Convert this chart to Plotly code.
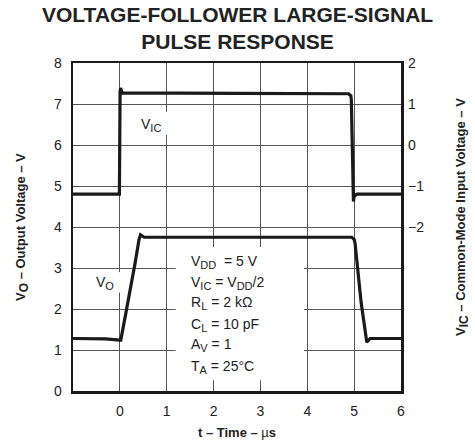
import plotly.graph_objects as go

# ---- data ----
t_vo = [-1, -0.3, 0.0, 0.02, 0.12, 0.23, 0.33, 0.41, 0.44, 0.52, 2.5, 4.95, 5.0, 5.02, 5.15, 5.27, 5.3, 5.34, 6]
vo = [1.28, 1.27, 1.24, 1.24, 1.85, 2.5, 3.15, 3.7, 3.81, 3.75, 3.75, 3.75, 3.7, 3.6, 2.15, 1.19, 1.23, 1.28, 1.28]

t_vic = [-1, -0.01, 0.005, 0.015, 0.05, 0.1, 2.5, 4.88, 4.93, 4.94, 4.985, 5.0, 5.06, 6]
vic = [-1.2, -1.2, 1.3, 1.39, 1.27, 1.27, 1.26, 1.25, 1.2, 1.1, -1.38, -1.25, -1.2, -1.2]

x_ticks = [0, 1, 2, 3, 4, 5, 6]
y_ticks = [0, 1, 2, 3, 4, 5, 6, 7, 8]
y2_ticks = [-2, -1, 0, 1, 2]
y2_labels = ["\u22122", "\u22121", "0", "1", "2"]


def sub(s, size=11):
    return "<sub><span style='font-size:%dpx'>%s</span></sub>" % (size, s)


params = [
    "V" + sub("DD") + "  = 5 V",
    "V" + sub("IC") + " = V" + sub("DD") + "/2",
    "R" + sub("L") + " = 2 k\u03a9",
    "C" + sub("L") + " = 10 pF",
    "A" + sub("V") + " = 1",
    "T" + sub("A") + " = 25\u00b0C",
]
param_y = [3.15, 2.64, 2.14, 1.62, 1.12, 0.59]

FONT = "Arial, Liberation Sans, sans-serif"
INK = "#1a1a1a"
GRID = "#555555"
TXT = "#222222"

fig = go.Figure()
fig.add_trace(go.Scatter(x=t_vo, y=vo, mode="lines", yaxis="y",
                         line=dict(color=INK, width=3.2), showlegend=False, hoverinfo="skip"))
fig.add_trace(go.Scatter(x=t_vic, y=vic, mode="lines", yaxis="y2",
                         line=dict(color=INK, width=3.2), showlegend=False, hoverinfo="skip"))

# white patches that interrupt the grid behind labels
for x0, x1, y0, y1 in [(1.19, 3.93, 0.26, 3.51), (0.29, 1.04, 6.25, 6.81), (-0.45, 0.03, 2.4, 2.9)]:
    fig.add_shape(type="rect", xref="x", yref="y", x0=x0, x1=x1, y0=y0, y1=y1,
                  fillcolor="white", line=dict(width=0), layer="between")

for txt, yy in zip(params, param_y):
    fig.add_annotation(x=1.47, y=yy, xref="x", yref="y", text=txt, showarrow=False,
                       xanchor="left", yanchor="middle",
                       font=dict(family=FONT, size=14, color=TXT))

fig.add_annotation(x=0.66, y=6.5, xref="x", yref="y", text="V" + sub("IC"), showarrow=False,
                   font=dict(family=FONT, size=14, color=TXT))
fig.add_annotation(x=-0.32, y=2.63, xref="x", yref="y", text="V" + sub("O"), showarrow=False,
                   font=dict(family=FONT, size=14, color=TXT))

# titles
fig.add_annotation(x=0.5, y=1, xref="paper", yref="paper", yshift=35, yanchor="middle",
                   text="<b>VOLTAGE-FOLLOWER LARGE-SIGNAL<br>PULSE RESPONSE</b>", showarrow=False,
                   font=dict(family=FONT, size=21, color=TXT))
fig.add_annotation(x=0, y=0.5, xref="paper", yref="paper", xshift=-51, textangle=-90,
                   xanchor="center", yanchor="middle",
                   text="<b>V" + sub("O", 12) + " \u2013 Output Voltage \u2013 V</b>", showarrow=False,
                   font=dict(family=FONT, size=13, color=TXT))
fig.add_annotation(x=1, y=0.5, xref="paper", yref="paper", xshift=61, yshift=10, textangle=-90,
                   xanchor="center", yanchor="middle",
                   text="<b>V" + sub("IC", 12) + " \u2013 Common-Mode Input Voltage \u2013 V</b>", showarrow=False,
                   font=dict(family=FONT, size=13, color=TXT))
fig.add_annotation(x=0.5, y=0, xref="paper", yref="paper", yshift=-41,
                   xanchor="center", yanchor="middle",
                   text="<b>t \u2013 Time \u2013 </b>\u00b5<b>s</b>", showarrow=False,
                   font=dict(family=FONT, size=13, color=TXT))

fig.update_layout(
    width=475, height=445,
    margin=dict(l=73, r=74, t=63, b=54, autoexpand=False),
    paper_bgcolor="white", plot_bgcolor="white",
    font=dict(family=FONT, size=14, color=TXT),
    hovermode=False,
    xaxis=dict(range=[-1, 6], tickvals=x_ticks, showgrid=True, gridcolor=GRID, gridwidth=1,
               zeroline=False, showline=True, linecolor=INK, linewidth=2.5, mirror=True,
               ticks="", ticklabelstandoff=6, automargin=False),
    yaxis=dict(range=[0, 8], tickvals=y_ticks, showgrid=True, gridcolor=GRID, gridwidth=1,
               zeroline=False, showline=True, linecolor=INK, linewidth=2.5, mirror=True,
               ticks="", ticklabelstandoff=6, automargin=False),
    yaxis2=dict(range=[-6, 2], overlaying="y", side="right", tickvals=y2_ticks, ticktext=y2_labels,
                showgrid=False, zeroline=False, showline=False, ticks="", ticklabelstandoff=6,
                automargin=False),
)

fig.write_html("out.html", config={"displayModeBar": False, "staticPlot": True},
               post_script="document.body.style.margin='0';document.body.style.overflow='hidden';")
